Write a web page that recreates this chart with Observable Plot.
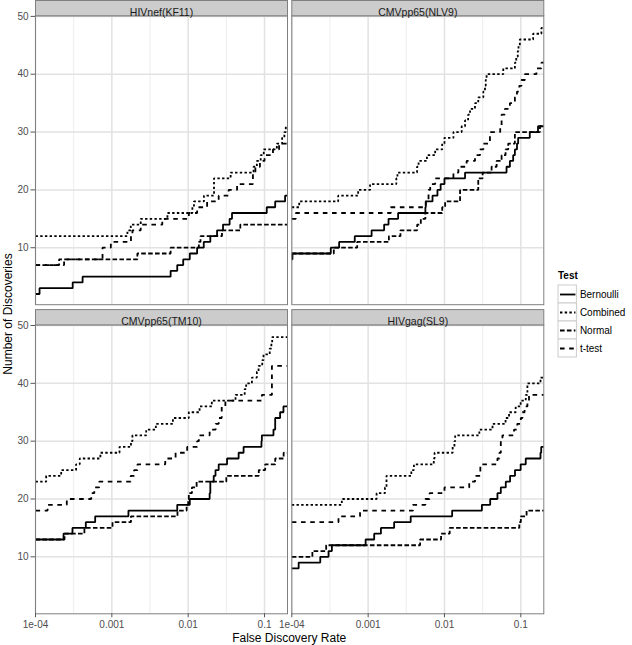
<!DOCTYPE html>
<html><head><meta charset="utf-8">
<script src="https://cdn.jsdelivr.net/npm/d3@7"></script>
<script src="https://cdn.jsdelivr.net/npm/@observablehq/plot@0.6"></script>
<style>
html,body{margin:0;padding:0;background:#fff;}
#chart{position:relative;width:632px;height:645px;font-family:"Liberation Sans",Arial,Helvetica,sans-serif;overflow:hidden;}
#chart .abs{position:absolute;white-space:nowrap;}
#chart svg{position:absolute;}
</style></head><body><div id="chart"></div>
<script>
const panels = ["HIVnef(KF11)", "CMVpp65(NLV9)", "CMVpp65(TM10)", "HIVgag(SL9)"];
const tests = ["Bernoulli", "Combined", "Normal", "t-test"];
const xTicks = [1e-4, 1e-3, 1e-2, 1e-1];
const xTickLabels = ["1e-04", "0.001", "0.01", "0.1"];
const xMinorTicks = [3.162e-4, 3.162e-3, 3.162e-2];
const yTicks = [10, 20, 30, 40, 50];
const xDomain = [1e-4, 0.2];
const yDomain = [0.15, 50.1];

// [false discovery rate, number of discoveries] at each step
const kf11Bernoulli = [[1e-4,2],[1.13e-4,3],[3.07e-4,4],[4.14e-4,5],[0.00589,6],[0.00719,7],[0.00861,8],[0.0105,9],[0.0131,10],[0.016,11],[0.0195,12],[0.0239,13],[0.0286,14],[0.0349,15],[0.0375,16],[0.107,17],[0.138,18],[0.186,19]];
const kf11Combined = [[1e-4,12],[0.0016,13],[0.00177,14],[0.00239,15],[0.00535,16],[0.01135,17],[0.0119,18],[0.0161,19],[0.0218,22],[0.036,23],[0.0719,24],[0.0794,25],[0.0891,26],[0.0977,27],[0.145,28],[0.17,29],[0.182,30],[0.19,31]];
const kf11Normal = [[1e-4,7],[2.04e-4,8],[0.00216,9],[0.00589,10],[0.0138,11],[0.0145,12],[0.0277,13],[0.0482,14]];
const kf11TTest = [[1e-4,7],[2.37e-4,8],[7.55e-4,10],[9.7e-4,11],[0.00178,12],[0.00186,13],[0.00239,14],[0.00458,15],[0.0102,16],[0.0131,17],[0.0177,18],[0.0251,19],[0.0339,20],[0.0437,21],[0.0705,23],[0.0759,24],[0.0871,25],[0.1,26],[0.129,27],[0.155,28]];

const nlv9Bernoulli = [[1e-4,8],[1.02e-4,9],[3.24e-4,10],[4.17e-4,11],[6.68e-4,12],[0.00111,13],[0.00162,14],[0.00185,15],[0.00247,16],[0.00562,17],[0.00569,18],[0.00697,19],[0.00809,20],[0.00891,21],[0.01,22],[0.0186,23],[0.065,24],[0.0719,25],[0.0794,26],[0.0836,27],[0.0891,28],[0.0923,29],[0.131,30],[0.168,31]];
const nlv9Combined = [[1e-4,17],[1.25e-4,18],[4.05e-4,19],[7.4e-4,20],[0.00106,21],[0.00234,22],[0.00242,23],[0.00437,24],[0.00458,25],[0.00589,26],[0.00755,27],[0.00933,28],[0.01,29],[0.0131,30],[0.0168,31],[0.0186,32],[0.0204,33],[0.0216,34],[0.0251,35],[0.0277,36],[0.0323,37],[0.0339,38],[0.0347,39],[0.0356,40],[0.0589,41],[0.0836,42],[0.0871,43],[0.0912,44],[0.0933,45],[0.097,46],[0.145,47],[0.186,48]];
const nlv9Normal = [[1e-4,9],[3.55e-4,10],[7.18e-4,11],[0.00187,12],[0.00265,13],[0.00439,14],[0.0049,15],[0.00562,16],[0.00933,17],[0.0102,18],[0.016,20],[0.0277,22],[0.0316,23],[0.0414,24],[0.0482,25],[0.056,26],[0.0631,27],[0.0684,28],[0.0836,30],[0.178,31]];
const nlv9TTest = [[1e-4,15],[1.13e-4,16],[0.00198,17],[0.00569,18],[0.00618,20],[0.0065,21],[0.00755,22],[0.0131,23],[0.0152,24],[0.0195,25],[0.0251,26],[0.0292,27],[0.0323,28],[0.0394,30],[0.0537,31],[0.056,33],[0.0618,34],[0.0719,35],[0.0836,36],[0.0891,37],[0.0955,38],[0.102,39],[0.113,40],[0.16,41],[0.186,42]];

const tm10Bernoulli = [[1e-4,13],[2.33e-4,14],[3.05e-4,15],[4.56e-4,16],[6.05e-4,17],[0.00165,18],[0.00719,19],[0.0105,20],[0.0191,21],[0.0195,23],[0.0216,24],[0.0228,25],[0.0251,26],[0.0323,27],[0.0458,28],[0.0532,29],[0.0912,30],[0.0923,31],[0.131,32],[0.138,34],[0.16,35],[0.177,36]];
const tm10Combined = [[1e-4,23],[1.38e-4,24],[2.17e-4,25],[3.4e-4,26],[3.8e-4,27],[7.08e-4,28],[0.00126,29],[0.00178,30],[0.00186,31],[0.00282,32],[0.00377,33],[0.00631,34],[0.0102,35],[0.0141,36],[0.0204,37],[0.0417,38],[0.055,39],[0.0575,40],[0.0684,41],[0.0794,42],[0.0836,43],[0.0933,44],[0.097,45],[0.117,46],[0.123,47],[0.126,48]];
const tm10Normal = [[1e-4,13],[2.4e-4,14],[4.37e-4,15],[0.00102,16],[0.00178,17],[0.00724,18],[0.00955,19],[0.01,20],[0.0102,21],[0.0112,22],[0.0129,23],[0.0316,24],[0.0841,25],[0.102,26],[0.138,27],[0.178,28]];
const tm10TTest = [[1e-4,18],[1.44e-4,19],[2.57e-4,20],[5.37e-4,21],[5.89e-4,22],[6.82e-4,23],[0.00177,24],[0.00196,25],[0.00217,26],[0.00501,27],[0.00684,28],[0.0097,29],[0.0131,30],[0.0138,31],[0.0191,32],[0.0229,33],[0.0251,34],[0.0275,36],[0.0307,37],[0.0923,38],[0.125,43]];

const sl9Bernoulli = [[1e-4,8],[1.23e-4,9],[2.36e-4,10],[3.03e-4,11],[3.35e-4,12],[9.27e-4,13],[0.0012,14],[0.00147,15],[0.00219,16],[0.00361,17],[0.0126,18],[0.0309,19],[0.0397,20],[0.0494,21],[0.0547,22],[0.0635,23],[0.0723,24],[0.0839,25],[0.0995,26],[0.116,27],[0.181,28],[0.185,29]];
const sl9Combined = [[1e-4,19],[4.52e-4,20],[0.00129,21],[0.00166,22],[0.00174,24],[0.00368,25],[0.00398,26],[0.00724,27],[0.00741,28],[0.0128,29],[0.0135,30],[0.0138,31],[0.0286,32],[0.0426,33],[0.0631,34],[0.0701,35],[0.0857,36],[0.0995,37],[0.116,38],[0.122,40],[0.181,41]];
const sl9Normal = [[1e-4,10],[1.86e-4,11],[2.82e-4,12],[0.00479,13],[0.00902,14],[0.0117,15],[0.0955,16],[0.1,17],[0.119,18]];
const sl9TTest = [[1e-4,16],[4.09e-4,17],[7.83e-4,18],[0.00387,19],[0.00562,20],[0.00638,21],[0.01,22],[0.0211,23],[0.0251,24],[0.0295,26],[0.0494,27],[0.0525,28],[0.0547,30],[0.0574,31],[0.0815,32],[0.0899,33],[0.1,34],[0.105,35],[0.112,36],[0.122,37],[0.128,38]];

const seriesByPanel = {
  "HIVnef(KF11)": {"Bernoulli": kf11Bernoulli, "Combined": kf11Combined, "Normal": kf11Normal, "t-test": kf11TTest},
  "CMVpp65(NLV9)": {"Bernoulli": nlv9Bernoulli, "Combined": nlv9Combined, "Normal": nlv9Normal, "t-test": nlv9TTest},
  "CMVpp65(TM10)": {"Bernoulli": tm10Bernoulli, "Combined": tm10Combined, "Normal": tm10Normal, "t-test": tm10TTest},
  "HIVgag(SL9)": {"Bernoulli": sl9Bernoulli, "Combined": sl9Combined, "Normal": sl9Normal, "t-test": sl9TTest}
};

// styles
const dashes = {"Bernoulli": null, "Combined": "2.4,2.3", "Normal": "4.6,2.3", "t-test": "4.6,4.6"};
const lineWidth = 1.8;

// table for the library
const rows = [];
panels.forEach((p, i) => {
  tests.forEach(t => {
    const s = seriesByPanel[p][t];
    const pts = s.concat([[xDomain[1], s[s.length - 1][1]]]);
    pts.forEach(([fdr, n]) => rows.push({panel: p, col: i % 2, row: Math.floor(i / 2), test: t, fdr, n}));
  });
});
const strips = panels.map((p, i) => ({panel: p, col: i % 2, row: Math.floor(i / 2)}));
const tickLabel = new Map(xTicks.map((v, i) => [v, xTickLabels[i]]));

// layout
const W = 632, H = 645;
const mL = 35, mR = 88.7, mT = 15.3, mB = 31.7;
const fxPad = 0.0168, fyPad = 0.0654;
const stripH = 15.3;
const panelH = (H - mT - mB) / (2 - fyPad) * (1 - fyPad);

const chart = document.getElementById("chart");

const main = Plot.plot({
  width: W, height: H,
  marginLeft: mL, marginRight: mR, marginTop: mT, marginBottom: mB,
  style: {fontFamily: "'Liberation Sans', Arial, Helvetica, sans-serif", background: "transparent", overflow: "visible", color: "#4d4d4d"},
  fx: {domain: [0, 1], axis: null, paddingInner: fxPad, paddingOuter: 0, round: false},
  fy: {domain: [0, 1], axis: null, paddingInner: fyPad, paddingOuter: 0, round: false},
  x: {type: "log", domain: xDomain},
  y: {domain: yDomain},
  marks: [
    Plot.gridX(xMinorTicks, {stroke: "#EFEFEF", strokeOpacity: 1, strokeWidth: 1.1}),
    Plot.gridX(xTicks, {stroke: "#E2E2E2", strokeOpacity: 1, strokeWidth: 1.5}),
    Plot.gridY(yTicks, {stroke: "#E2E2E2", strokeOpacity: 1, strokeWidth: 1.5}),
    ...tests.map(t => Plot.line(rows.filter(d => d.test === t), {
      x: "fdr", y: "n", fx: "col", fy: "row", curve: "step-after",
      stroke: "#000", strokeWidth: lineWidth,
      strokeDasharray: dashes[t] || undefined,
      strokeLinecap: "butt", strokeLinejoin: "miter"
    })),
    Plot.frame({stroke: "#7F7F7F", strokeWidth: 1}),
    Plot.frame({fill: "#CCCCCC", stroke: "#7F7F7F", strokeWidth: 1, insetTop: -stripH, insetBottom: panelH}),
    Plot.text(strips, {fx: "col", fy: "row", text: "panel", frameAnchor: "top", dy: -stripH / 2, fontSize: 10.5, fill: "#1a1a1a"}),
    Plot.axisX({ticks: xTicks, tickFormat: d => tickLabel.get(d), tickSize: 4, tickPadding: 3, fontSize: 10, stroke: "#555", fill: "#4d4d4d", label: null}),
    Plot.axisY({ticks: yTicks, tickSize: 4.5, tickPadding: 2.5, fontSize: 10, stroke: "#555", fill: "#4d4d4d", label: null})
  ]
});
main.style.left = "0px"; main.style.top = "0px";
chart.appendChild(main);

// axis titles
const xt = document.createElement("div");
xt.className = "abs";
xt.textContent = "False Discovery Rate";
Object.assign(xt.style, {left: "0px", width: (W - mR + mL) + "px", textAlign: "center", top: "631px", fontSize: "12px", color: "#000"});
chart.appendChild(xt);

const yt = document.createElement("div");
yt.className = "abs";
yt.textContent = "Number of Discoveries";
Object.assign(yt.style, {left: "8px", top: "314px", fontSize: "12px", color: "#000", transform: "translate(-50%, -50%) rotate(-90deg)"});
chart.appendChild(yt);

// legend
const lt = document.createElement("div");
lt.className = "abs";
lt.textContent = "Test";
Object.assign(lt.style, {left: "558px", top: "270px", fontSize: "10px", fontWeight: "bold", color: "#000"});
chart.appendChild(lt);

const keyW = 18.4, keyRow = 18.6;
const legend = Plot.plot({
  width: 74, height: keyRow * tests.length,
  marginLeft: 0, marginTop: 0, marginBottom: 0, marginRight: 74 - keyW,
  style: {fontFamily: "'Liberation Sans', Arial, Helvetica, sans-serif", background: "transparent", overflow: "visible"},
  y: {type: "band", domain: tests, axis: null, padding: 0},
  marks: [
    Plot.cell(tests, {y: d => d, fill: "white", stroke: "#CCCCCC", strokeWidth: 1}),
    ...tests.map(t => Plot.ruleY([t], {y: d => d, stroke: "#000", strokeWidth: lineWidth, strokeDasharray: dashes[t] || undefined, insetLeft: 2, insetRight: 1, strokeLinecap: "butt"})),
    Plot.text(tests, {y: d => d, text: d => d, frameAnchor: "right", textAnchor: "start", dx: 3, fontSize: 10, fill: "#000"})
  ]
});
legend.style.left = "558.3px"; legend.style.top = "283.8px";
chart.appendChild(legend);
</script>
</body></html>
